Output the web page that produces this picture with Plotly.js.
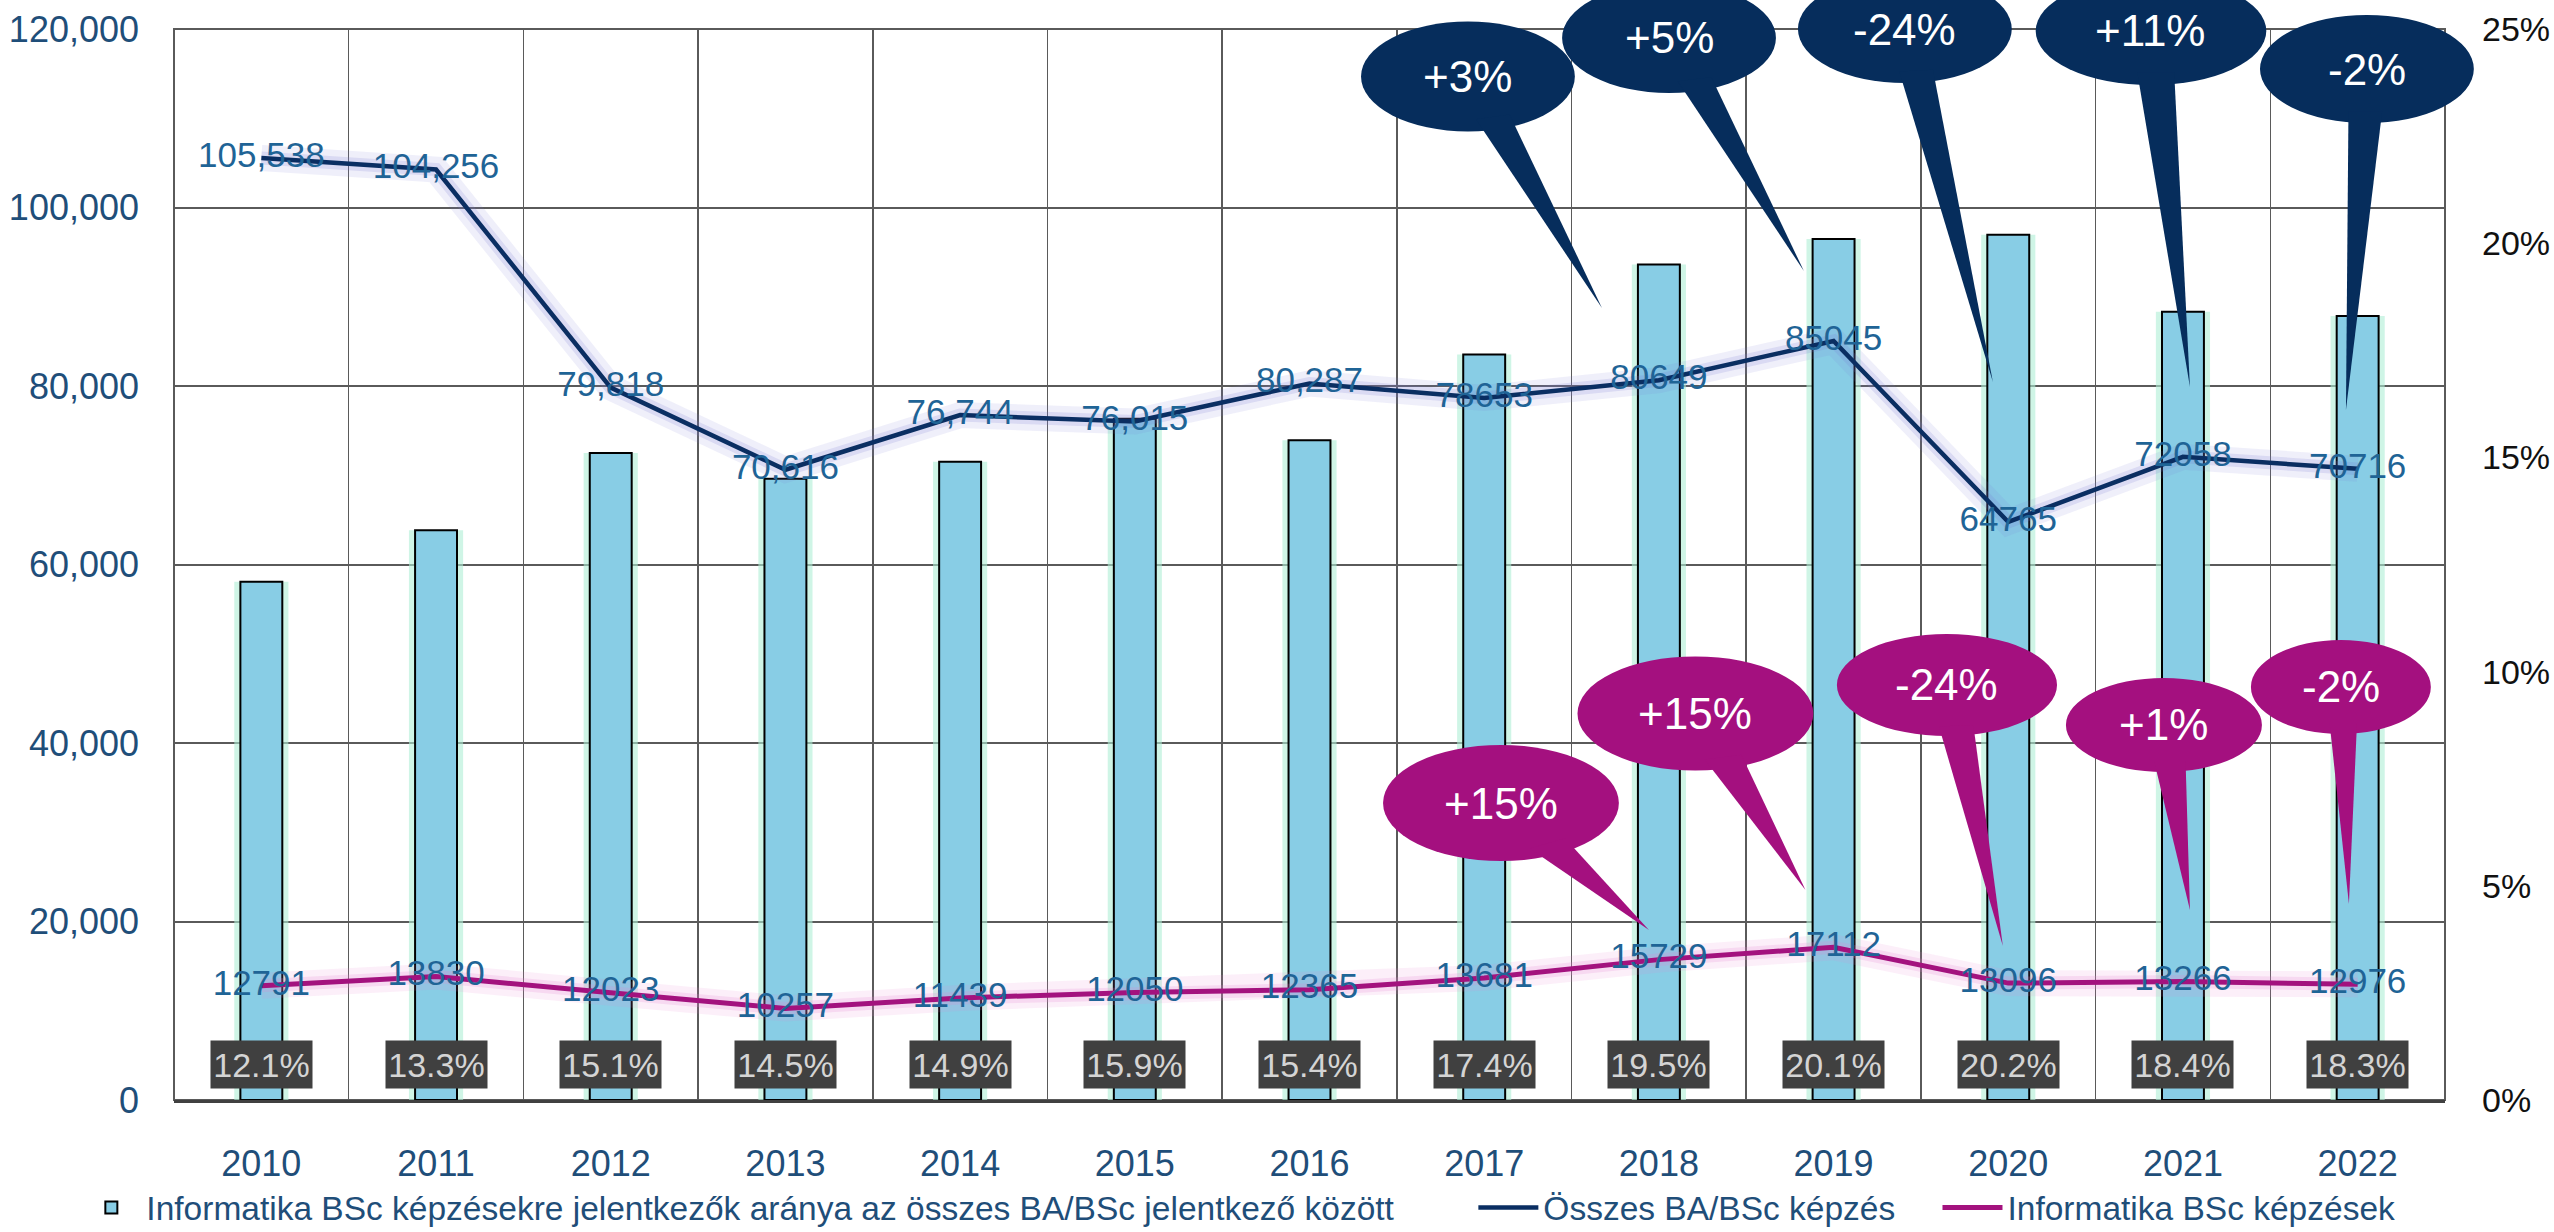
<!DOCTYPE html>
<html>
<head>
<meta charset="utf-8">
<script src="https://cdn.plot.ly/plotly-3.0.1.min.js"></script>
<style>
  html, body { margin: 0; padding: 0; background: #ffffff; }
  #chart { width: 2554px; height: 1232px; }
</style>
</head>
<body>
<div id="chart"></div>
<script>
// ---------------- DATA ----------------
const years = ['2010','2011','2012','2013','2014','2015','2016','2017','2018','2019','2020','2021','2022'];
// share of IT BSc applicants among all BA/BSc applicants (%)
const itShare = [12.1, 13.3, 15.1, 14.5, 14.9, 15.9, 15.4, 17.4, 19.5, 20.1, 20.2, 18.4, 18.3];
// all BA/BSc applicants
const totalBA = [105538, 104256, 79818, 70616, 76744, 76015, 80287, 78653, 80649, 85045, 64765, 72058, 70716];
// IT BSc applicants
const itBSc = [12791, 13830, 12023, 10257, 11439, 12050, 12365, 13681, 15729, 17112, 13096, 13266, 12976];
// labels of the data points, as printed on the chart
const totalLabels = ['105,538','104,256','79,818','70,616','76,744','76,015','80,287','78653','80649','85045','64765','72058','70716'];
const itLabels = ['12791','13830','12023','10257','11439','12050','12365','13681','15729','17112','13096','13266','12976'];
// year-on-year change callouts (2018..2022)
const totalChangeLabels = ['+3%', '+5%', '-24%', '+11%', '-2%'];
const itChangeLabels = ['+15%', '+15%', '-24%', '+1%', '-2%'];
const seriesNames = [
  'Informatika BSc képzésekre jelentkezők aránya az összes BA/BSc jelentkező között',
  'Összes BA/BSc képzés',
  'Informatika BSc képzések'
];

// ---------------- STYLE / LAYOUT ----------------
const FONT = '"Liberation Sans", Arial, sans-serif';
const NAVY = '#0A2E62';
const PINK = '#A3127E';
const BAR = '#88CDE5';
const LABEL = '#1F6496';
const AXIS_BLUE = '#1F4E79';
const Y_MAX = 120000, Y2_MAX = 25;
const NB = '\u00A0';

// callout geometry (in axis units: x = category index, y = left-axis value)
const totalCalloutGeom = [
  {cx: 6.907, cy: 114674, rx: 0.612, ry: 6160, bl: [6.964,108684], br: [7.205,109356], tip: [7.674, 88740]},
  {cx: 8.058, cy: 118992, rx: 0.612, ry: 6160, bl: [8.120,112941], br: [8.361,113502], tip: [8.830, 92885]},
  {cx: 9.408, cy: 120000, rx: 0.612, ry: 6050, bl: [9.368,114062], br: [9.609,114286], tip: [9.912, 80448]},
  {cx: 10.817, cy: 119776, rx: 0.660, ry: 6050, bl: [10.719,113950], br: [10.983,113950], tip: [11.040, 79888]},
  {cx: 12.053, cy: 115518, rx: 0.612, ry: 6050, bl: [11.921,109580], br: [12.162,109580], tip: [11.933, 77311]}
];
const itCalloutGeom = [
  {cx: 7.096, cy: 33277, rx: 0.675, ry: 6500, bl: [7.302,26891], br: [7.554,28347], tip: [7.943, 19048]},
  {cx: 8.209, cy: 43305, rx: 0.675, ry: 6390, bl: [8.275,36863], br: [8.538,37535], tip: [8.839, 23529]},
  {cx: 9.649, cy: 46499, rx: 0.630, ry: 5714, bl: [9.592,40672], br: [9.838,40896], tip: [9.969, 17255]},
  {cx: 10.891, cy: 42017, rx: 0.561, ry: 5266, bl: [10.822,36863], br: [11.046,36863], tip: [11.040, 21289]},
  {cx: 11.904, cy: 46275, rx: 0.515, ry: 5266, bl: [11.824,41120], br: [12.019,41120], tip: [11.950, 21961]}
];

const nCat = years.length;
const px = x => (x + 0.5) / nCat;
const py = y => y / Y_MAX;

// ---------------- TRACES ----------------
const traces = [];
// bar glow
traces.push({
  type: 'bar', x: years, y: itShare, yaxis: 'y', xaxis: 'x',
  width: 0.31, marker: {color: 'rgba(175,238,214,0.6)', line: {width: 0}},
  showlegend: false, hoverinfo: 'skip'
});
// bars
traces.push({
  type: 'bar', x: years, y: itShare, yaxis: 'y', xaxis: 'x',
  name: seriesNames[0] + NB.repeat(8),
  width: 0.24, marker: {color: BAR, line: {color: '#000000', width: 2}}
});
// line glows
[[totalBA, 'rgba(120,120,210,0.12)', 26], [totalBA, 'rgba(120,120,210,0.18)', 13],
 [itBSc, 'rgba(230,130,210,0.13)', 26], [itBSc, 'rgba(230,130,210,0.2)', 13]].forEach(g => {
  traces.push({
    type: 'scatter', mode: 'lines', x: years, y: g[0], yaxis: 'y2', xaxis: 'x',
    line: {color: g[1], width: g[2]}, showlegend: false, hoverinfo: 'skip'
  });
});
traces.push({
  type: 'scatter', mode: 'lines+text', x: years, y: totalBA, yaxis: 'y2', xaxis: 'x',
  name: seriesNames[1] + NB.repeat(4),
  line: {color: NAVY, width: 4.5}, text: totalLabels, textposition: 'middle center',
  textfont: {family: FONT, size: 35, color: LABEL}, cliponaxis: false
});
traces.push({
  type: 'scatter', mode: 'lines+text', x: years, y: itBSc, yaxis: 'y2', xaxis: 'x', name: seriesNames[2],
  line: {color: PINK, width: 5}, text: itLabels, textposition: 'middle center',
  textfont: {family: FONT, size: 35, color: LABEL}, cliponaxis: false
});

// ---------------- SHAPES & ANNOTATIONS ----------------
const shapes = [];
const annotations = [];

// frame of the plot area
shapes.push({type: 'rect', xref: 'paper', yref: 'paper', x0: 0, x1: 1, y0: 0, y1: 1,
  line: {color: '#5A5A5A', width: 2}, fillcolor: 'rgba(0,0,0,0)', layer: 'below'});

function addCallout(g, text, color) {
  const inset = p => [p[0] + 0.2 * (g.cx - p[0]), p[1] + 0.2 * (g.cy - p[1])];
  const a = inset(g.bl), b = inset(g.br);
  shapes.push({type: 'circle', xref: 'paper', yref: 'paper',
    x0: px(g.cx - g.rx), x1: px(g.cx + g.rx), y0: py(g.cy - g.ry), y1: py(g.cy + g.ry),
    fillcolor: color, line: {width: 0}, layer: 'above'});
  shapes.push({type: 'path', xref: 'paper', yref: 'paper',
    path: `M ${px(a[0])} ${py(a[1])} L ${px(g.tip[0])} ${py(g.tip[1])} L ${px(b[0])} ${py(b[1])} Z`,
    fillcolor: color, line: {width: 0}, layer: 'above'});
  annotations.push({xref: 'paper', yref: 'paper', x: px(g.cx), y: py(g.cy), text: text,
    showarrow: false, xanchor: 'center', yanchor: 'middle',
    font: {family: FONT, size: 44, color: '#FFFFFF'}});
}
totalChangeLabels.forEach((t, i) => addCallout(totalCalloutGeom[i], t, '#062D5C'));
itChangeLabels.forEach((t, i) => addCallout(itCalloutGeom[i], t, '#A4107F'));

// percentage boxes at the foot of each bar
itShare.forEach((v, i) => {
  annotations.push({xref: 'paper', yref: 'paper', x: px(i), y: py(4030),
    xanchor: 'center', yanchor: 'middle', text: v.toFixed(1) + '%',
    showarrow: false, bgcolor: '#404040', width: 97, height: 43, borderpad: 2,
    font: {family: FONT, size: 34, color: '#D4D4D4'}});
});

const layout = {
  width: 2554, height: 1232,
  margin: {l: 174, r: 109, t: 29, b: 132, pad: 0, autoexpand: false},
  paper_bgcolor: '#FFFFFF', plot_bgcolor: '#FFFFFF',
  font: {family: FONT, size: 35, color: AXIS_BLUE},
  barmode: 'overlay',
  showlegend: true,
  legend: {orientation: 'h', x: -0.043, xanchor: 'left', y: -0.1005, yanchor: 'middle',
    font: {family: FONT, size: 33.5, color: AXIS_BLUE}, bgcolor: 'rgba(0,0,0,0)', itemwidth: 60,
    traceorder: 'normal'},
  xaxis: {type: 'category', range: [-0.5, 12.5], tickson: 'boundaries', showgrid: true,
    gridcolor: '#5A5A5A', gridwidth: 1.5, showline: true, linecolor: '#404040', linewidth: 3,
    ticks: '', ticklabelstandoff: 30,
    tickfont: {family: FONT, size: 36, color: AXIS_BLUE}, fixedrange: true},
  yaxis: {range: [0, Y2_MAX], side: 'right', dtick: 5, ticksuffix: '%', showgrid: false,
    zeroline: false, showline: false, ticks: '', ticklabelstandoff: 36,
    tickfont: {family: FONT, size: 34, color: '#111111'}, fixedrange: true},
  yaxis2: {range: [0, Y_MAX], overlaying: 'y', side: 'left', dtick: 20000, tickformat: ',d',
    showgrid: true, gridcolor: '#5A5A5A', gridwidth: 2, zeroline: false, showline: false,
    ticks: '', ticklabelstandoff: 34,
    tickfont: {family: FONT, size: 36, color: AXIS_BLUE}, fixedrange: true},
  shapes: shapes,
  annotations: annotations
};

Plotly.newPlot('chart', traces, layout, {staticPlot: true, displayModeBar: false});
</script>
</body>
</html>
